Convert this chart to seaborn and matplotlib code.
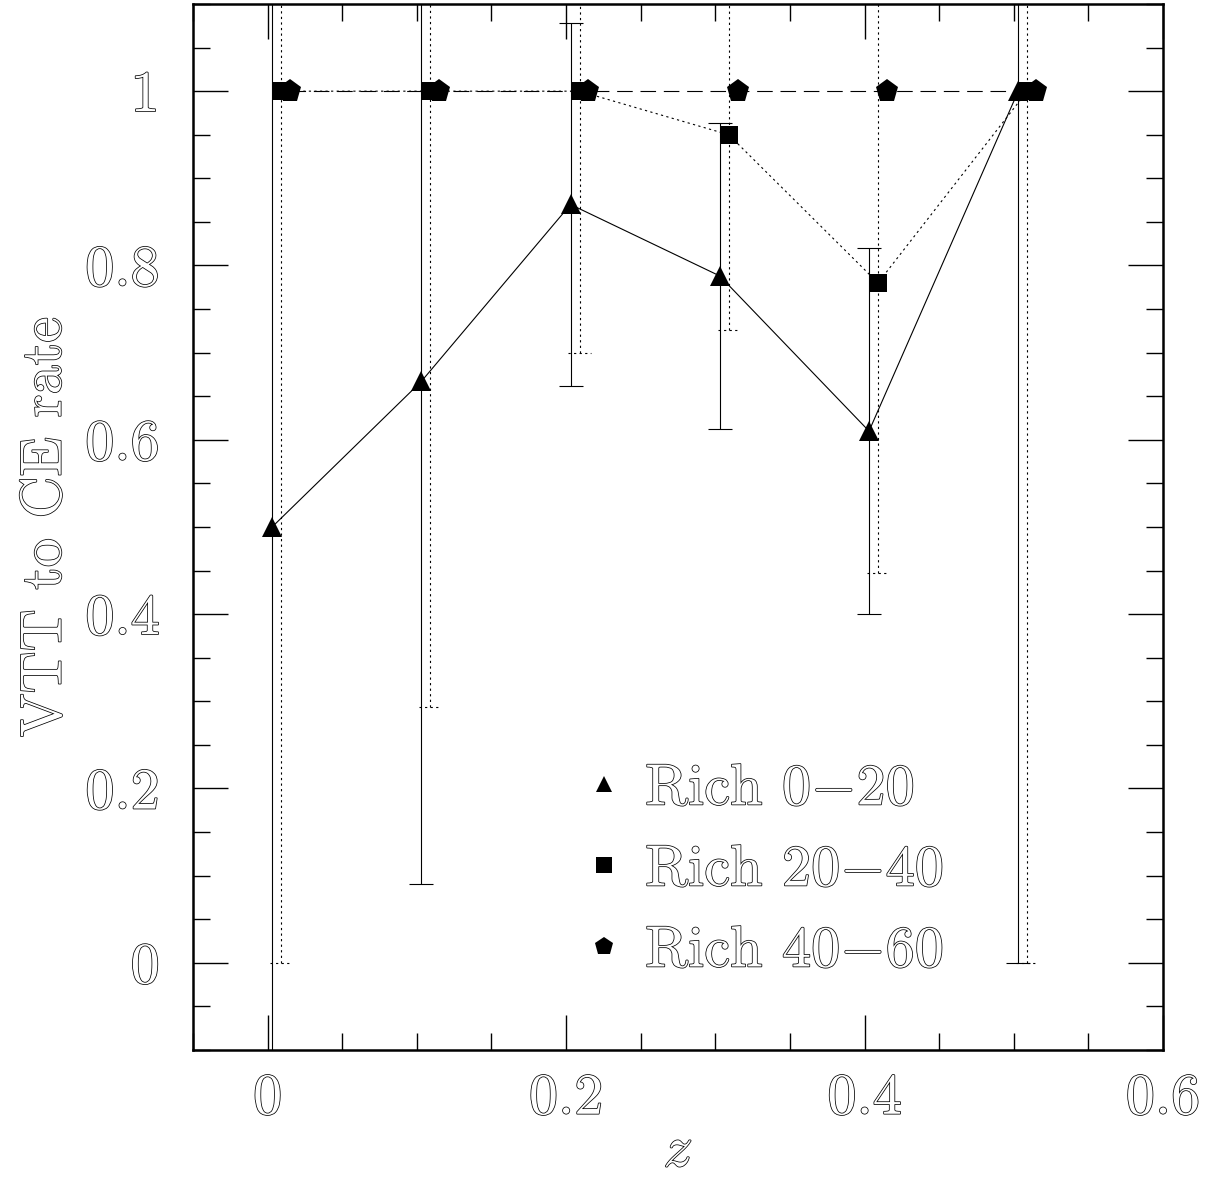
import numpy as np
import pandas as pd
import seaborn as sns
import matplotlib
matplotlib.use("Agg")
import matplotlib.pyplot as plt
from matplotlib import ticker, patheffects
from matplotlib.lines import Line2D

# Redshift bins and the fraction of VTT clusters recovered by CE, per richness class
z_bins = [0.0, 0.1, 0.2, 0.3, 0.4, 0.5]
series_labels = ["Rich 0$-$20", "Rich 20$-$40", "Rich 40$-$60"]

rate_rich_0_20 = [0.50, 0.667, 0.87, 0.788, 0.61, 1.00]
err_rich_0_20 = [0.707, 0.577, 0.208, 0.175, 0.21, 1.00]

rate_rich_20_40 = [1.00, 1.00, 1.00, 0.95, 0.78, 1.00]
err_rich_20_40 = [1.00, 0.707, 0.30, 0.224, 0.333, 1.00]

rate_rich_40_60 = [1.00, 1.00, 1.00, 1.00, 1.00, 1.00]

x_ticks = [0, 0.2, 0.4, 0.6]
y_ticks = [0, 0.2, 0.4, 0.6, 0.8, 1.0]

# small horizontal shifts so the three classes do not sit on top of each other
shift = [0.003, 0.009, 0.015]

sns.set_theme(style="ticks")
plt.rcParams["font.family"] = ["cmr10"]
plt.rcParams["mathtext.fontset"] = "cm"
plt.rcParams["axes.unicode_minus"] = False
plt.rcParams["axes.formatter.use_mathtext"] = True

W, H = 1219, 1178
fig = plt.figure(figsize=(W / 100, H / 100), dpi=100)
ax = fig.add_axes([193 / W, 1 - 1050 / H, 970 / W, 1046 / H])

FS = 42
outline = [patheffects.withStroke(linewidth=1.1, foreground="black")]

z = np.asarray(z_bins)
df = pd.DataFrame({
    "z0": z + shift[0], "r0": rate_rich_0_20, "e0": err_rich_0_20,
    "z1": z + shift[1], "r1": rate_rich_20_40, "e1": err_rich_20_40,
    "z2": z + shift[2], "r2": rate_rich_40_60,
})

lw = 0.8
dotted = (0, (2.0, 3.0))
dashed = (0, (14, 7))

# Rich 0-20: solid line, solid error bars with caps
ax.errorbar(df["z0"], df["r0"], yerr=df["e0"], fmt="none", ecolor="black",
            elinewidth=lw, capsize=8.6, capthick=lw, zorder=2)
sns.lineplot(data=df, x="z0", y="r0", ax=ax, color="black", linewidth=lw,
             linestyle="-", marker="^", markersize=14.4, markeredgewidth=0,
             estimator=None, sort=False, legend=False, zorder=3)

# Rich 20-40: dotted line, dotted error bars
eb = ax.errorbar(df["z1"], df["r1"], yerr=df["e1"], fmt="none", ecolor="black",
                 elinewidth=lw, capsize=0, zorder=2)
eb[2][0].set_linestyle(dotted)
cap_hw = 0.0075
for sign in (-1, 1):
    ax.hlines(df["r1"] + sign * df["e1"], df["z1"] - cap_hw, df["z1"] + cap_hw,
              colors="black", linewidth=lw, linestyles=dotted, zorder=2)
sns.lineplot(data=df, x="z1", y="r1", ax=ax, color="black", linewidth=lw,
             linestyle=dotted, marker="s", markersize=13, markeredgewidth=0,
             estimator=None, sort=False, legend=False, zorder=3)

# Rich 40-60: long-dashed line
sns.lineplot(data=df, x="z2", y="r2", ax=ax, color="black", linewidth=lw,
             linestyle=dashed, marker="p", markersize=17, markeredgewidth=0,
             estimator=None, sort=False, legend=False, zorder=3)

ax.set_xlim(-0.05, 0.6)
ax.set_ylim(-0.1, 1.1)
ax.xaxis.set_major_locator(ticker.FixedLocator(x_ticks))
ax.yaxis.set_major_locator(ticker.FixedLocator(y_ticks))
ax.xaxis.set_minor_locator(ticker.MultipleLocator(0.05))
ax.yaxis.set_minor_locator(ticker.MultipleLocator(0.05))
ax.xaxis.set_major_formatter(ticker.FormatStrFormatter("%g"))
ax.yaxis.set_major_formatter(ticker.FormatStrFormatter("%g"))
ax.tick_params(which="both", direction="in", top=True, right=True,
               color="black", width=1.0)
ax.tick_params(which="major", length=25)
ax.tick_params(which="minor", length=12.5)
ax.tick_params(axis="x", which="major", pad=17, labelsize=FS, labelcolor="white")
ax.tick_params(axis="y", which="major", pad=24, labelsize=FS, labelcolor="white")
for sp in ax.spines.values():
    sp.set_linewidth(1.8)
    sp.set_color("black")
ax.grid(False)

ax.set_xlabel("$z$", fontsize=FS, color="white")
ax.set_ylabel("VTT to CE rate", fontsize=FS, color="white")
ax.xaxis.set_label_coords(0.5, -0.073)
ax.yaxis.set_label_coords(-0.125, 0.5)

handles = [
    Line2D([], [], color="black", linestyle="none", marker="^", markersize=11.5, markeredgewidth=0),
    Line2D([], [], color="black", linestyle="none", marker="s", markersize=11, markeredgewidth=0),
    Line2D([], [], color="black", linestyle="none", marker="p", markersize=13.5, markeredgewidth=0),
]
leg = ax.legend(handles, series_labels, loc="upper left",
                bbox_to_anchor=((581 - 193) / 970, 1 - (764 - 4) / 1046),
                frameon=False, borderpad=0, borderaxespad=0,
                handlelength=0.8, handletextpad=0.3, labelspacing=0.5,
                prop={"size": FS})

texts = (ax.get_xticklabels() + ax.get_yticklabels()
         + [ax.xaxis.label, ax.yaxis.label] + leg.get_texts())
for t in texts:
    t.set_color("white")
    t.set_path_effects(outline)

fig.savefig("out.png", dpi=100, facecolor="white")
